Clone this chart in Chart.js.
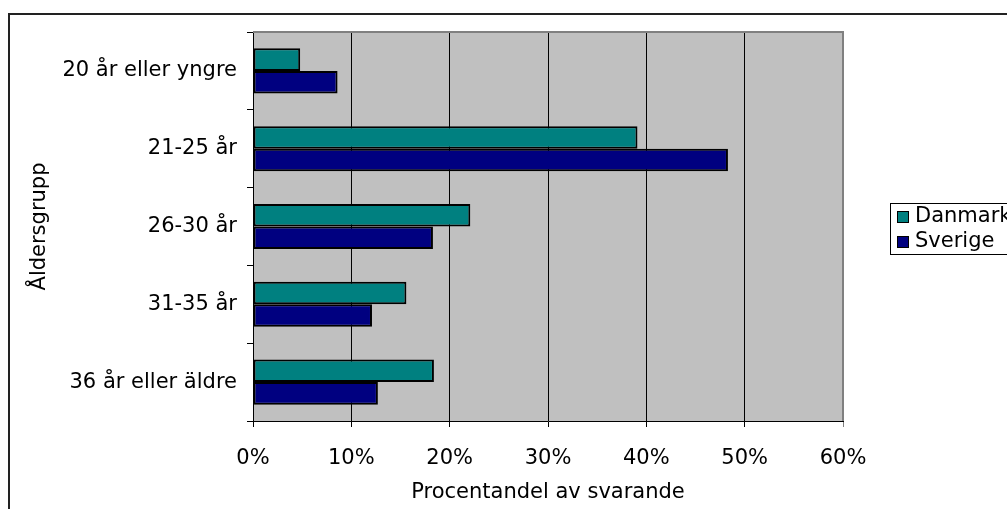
<!DOCTYPE html>
<html>
<head>
<meta charset="utf-8">
<script src="https://cdn.jsdelivr.net/npm/chart.js@4"></script>
<style>
  html, body { margin: 0; padding: 0; background: #fff; }
  #wrap { width: 1007px; height: 509px; position: relative; }
</style>
</head>
<body>
<div id="wrap"><canvas id="chart" width="1007" height="509"></canvas></div>
<script>
// ===== Åldersgrupp, Danmark vs Sverige =====

const categories = ['20 år eller yngre', '21-25 år', '26-30 år', '31-35 år', '36 år eller äldre'];
const danmarkValues = [4.8, 39.1, 22.1, 15.6, 18.4];
const sverigeValues = [8.6, 48.3, 18.3, 12.1, 12.7];
const xTicks = [0, 10, 20, 30, 40, 50, 60];

const FONT = { family: "'DejaVu Sans', Verdana, sans-serif", size: 21 };

// grå plottyta + ram runt hela diagrammet
const backgroundPlugin = {
    id: 'background',
    beforeDraw(chart) {
        const { ctx, chartArea } = chart;
        ctx.save();
        ctx.fillStyle = '#fff';
        ctx.fillRect(0, 0, chart.width, chart.height);
        ctx.strokeStyle = '#222';
        ctx.lineWidth = 2;
        ctx.strokeRect(9, 14, 1200, 700);
        ctx.fillStyle = '#c0c0c0';
        ctx.fillRect(chartArea.left, chartArea.top, chartArea.right - chartArea.left, chartArea.bottom - chartArea.top);
        ctx.restore();
    },
    afterDatasetsDraw(chart) {
        const { ctx, chartArea } = chart;
        ctx.save();
        ctx.strokeStyle = '#808080';
        ctx.lineWidth = 2;
        ctx.beginPath();
        ctx.moveTo(chartArea.left, chartArea.top);
        ctx.lineTo(chartArea.right, chartArea.top);
        ctx.lineTo(chartArea.right, chartArea.bottom);
        ctx.stroke();
        ctx.restore();
    }
};

// Excel-liknande legend med ram
const boxLegendPlugin = {
    id: 'boxLegend',
    afterDraw(chart) {
        const { ctx } = chart;
        const left = 890, top = 203, bottom = 254, rowH = 25;
        ctx.save();
        ctx.fillStyle = '#fff';
        ctx.fillRect(left, top, 200, bottom - top);
        ctx.strokeStyle = '#000';
        ctx.lineWidth = 1;
        ctx.strokeRect(left + 0.5, top + 0.5, 200, bottom - top);
        ctx.font = `${FONT.size}px ${FONT.family}`;
        ctx.textBaseline = 'middle';
        chart.data.datasets.forEach((ds, i) => {
            const cy = top + 14 + i * rowH;
            ctx.fillStyle = ds.backgroundColor;
            ctx.fillRect(left + 7, cy - 6, 12, 12);
            ctx.strokeStyle = '#000';
            ctx.strokeRect(left + 7.5, cy - 5.5, 11, 11);
            ctx.fillStyle = '#000';
            ctx.fillText(ds.label, left + 25, cy);
        });
        ctx.restore();
    }
};

new Chart(document.getElementById('chart').getContext('2d'), {
    type: 'bar',
    data: {
        labels: categories,
        datasets: [{
            label: 'Danmark',
            data: danmarkValues,
            backgroundColor: '#008080',
            borderColor: '#000',
            borderWidth: 2,
            borderSkipped: false
        }, {
            label: 'Sverige',
            data: sverigeValues,
            backgroundColor: '#000080',
            borderColor: '#000',
            borderWidth: 2,
            borderSkipped: false
        }]
    },
    options: {
        indexAxis: 'y',
        responsive: false,
        animation: false,
        categoryPercentage: 0.58,
        barPercentage: 1.0,
        layout: { padding: { top: 32, right: 164, left: 0, bottom: 0 } },
        plugins: {
            legend: { display: false },
            tooltip: { enabled: false }
        },
        scales: {
            x: {
                min: 0,
                max: 60,
                afterFit(scale) { scale.height = 88; },
                afterBuildTicks(scale) { scale.ticks = xTicks.map(v => ({ value: v })); },
                ticks: {
                    color: '#000',
                    font: FONT,
                    padding: 19,
                    callback: (value) => value + '%'
                },
                grid: {
                    color: (c) => c.tick && c.tick.value === 60 ? '#808080' : '#000',
                    lineWidth: 1,
                    tickLength: 6,
                    drawTicks: true
                },
                border: { display: true, color: '#000', width: 1 },
                title: {
                    display: true,
                    text: 'Procentandel av svarande',
                    color: '#000',
                    font: FONT,
                    padding: { top: 4, bottom: 4 }
                }
            },
            y: {
                afterFit(scale) { scale.width = 253; },
                ticks: {
                    color: '#000',
                    font: FONT,
                    padding: 10
                },
                grid: {
                    offset: true,
                    drawOnChartArea: false,
                    drawTicks: true,
                    tickLength: 6,
                    color: '#000'
                },
                border: { display: true, color: '#000', width: 1 },
                title: {
                    display: true,
                    text: 'Åldersgrupp',
                    color: '#000',
                    font: FONT,
                    padding: { top: 27, bottom: 4 }
                }
            }
        }
    },
    plugins: [backgroundPlugin, boxLegendPlugin]
});
</script>
</body>
</html>
